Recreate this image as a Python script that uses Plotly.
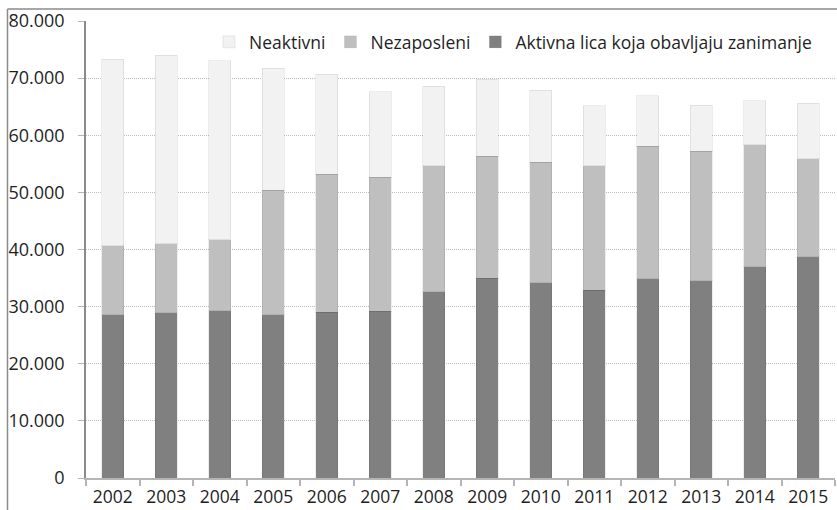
import plotly.graph_objects as go

years = ["2002", "2003", "2004", "2005", "2006", "2007", "2008",
         "2009", "2010", "2011", "2012", "2013", "2014", "2015"]

# Aktivna lica koja obavljaju zanimanje
aktivna = [28570, 28970, 29270, 28570, 29030, 29150, 32590,
           34980, 34160, 32880, 34910, 34560, 37010, 38710]
# Nezaposleni
nezaposleni = [12060, 12060, 12460, 21790, 24130, 23540, 22080,
               21330, 21100, 21740, 23150, 22620, 21330, 17180]
# Neaktivni
neaktivni = [32640, 32940, 31300, 21390, 17480, 14920, 13880,
             13520, 12590, 10540, 8850, 8100, 7690, 9690]

FONT = "Open Sans"
edge = dict(color="rgba(0,0,0,0.07)", width=1)

fig = go.Figure()
fig.add_trace(go.Bar(x=years, y=aktivna, name="Aktivna lica koja obavljaju zanimanje",
                     marker=dict(color="#808080", line=edge)))
fig.add_trace(go.Bar(x=years, y=nezaposleni, name="Nezaposleni",
                     marker=dict(color="#bfbfbf", line=edge)))
fig.add_trace(go.Bar(x=years, y=neaktivni, name="Neaktivni",
                     marker=dict(color="#f2f2f2", line=edge)))

# outer frame (left and top edges visible in the reference)
W, L, R = 837, 86, 835
H, T, B = 510, 21, 478
def px(p):
    return (p - L) / (R - L)
def py(q):
    return (B - q) / (B - T)

fig.update_layout(
    width=W, height=H,
    barmode="stack", bargap=0.59,
    separators=",.",
    paper_bgcolor="white", plot_bgcolor="white",
    margin=dict(l=L, r=W - R, t=T, b=H - B, pad=0, autoexpand=False),
    font=dict(family=FONT, size=18, color="#1f1f1f"),
    showlegend=True,
    legend=dict(orientation="h", traceorder="reversed",
                x=px(513), xanchor="center", y=py(24), yanchor="top",
                font=dict(size=17.5, family=FONT, color="#1f1f1f"),
                bgcolor="rgba(0,0,0,0)", itemclick=False),
    xaxis=dict(type="category", showgrid=False,
               showline=True, linecolor="#b5b5b5", linewidth=1.5,
               ticks="outside", tickson="boundaries", ticklen=6,
               tickcolor="#b5b5b5", tickwidth=1.5,
               tickfont=dict(size=17.5), ticklabelstandoff=2),
    yaxis=dict(range=[0, 80000], tick0=0, dtick=10000, tickformat=",d",
               showgrid=True, gridcolor="#bdbdbd", griddash="1px,1px", gridwidth=1,
               showline=True, linecolor="#8a8a8a", linewidth=1.5,
               ticks="outside", ticklen=6, tickcolor="#b5b5b5", tickwidth=1,
               tickfont=dict(size=18), ticklabelstandoff=10,
               zeroline=False),
    shapes=[
        dict(type="line", xref="paper", yref="paper",
             x0=px(7.5), x1=px(7.5), y0=py(9), y1=py(H + 5),
             line=dict(color="#8a8a8a", width=1.5)),
        dict(type="line", xref="paper", yref="paper",
             x0=px(7.5), x1=px(W + 5), y0=py(9), y1=py(9),
             line=dict(color="#8a8a8a", width=1.5)),
    ],
)

fig.write_html(
    "out.html",
    config={"displayModeBar": False},
    post_script="document.body.style.margin='0';document.body.style.padding='0';"
                "document.body.style.overflow='hidden';",
)
